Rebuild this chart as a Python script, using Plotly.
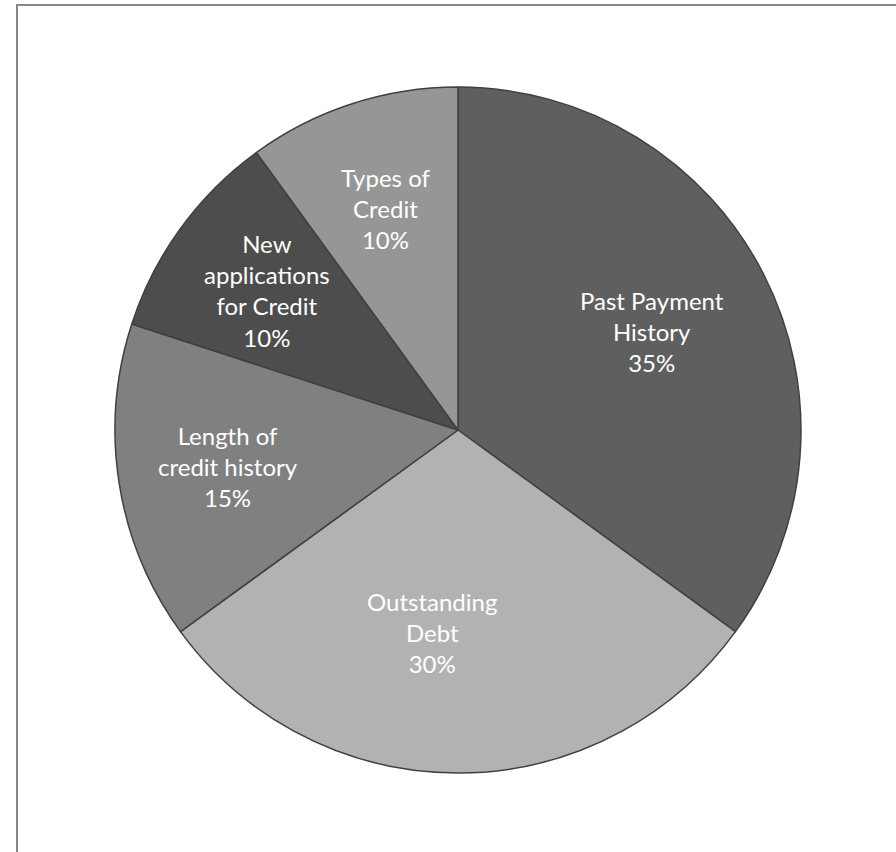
import math
import plotly.graph_objects as go

categories = ["Past Payment History", "Outstanding Debt", "Length of credit history",
              "New applications for Credit", "Types of Credit"]
label_lines = ["Past Payment<br>History", "Outstanding<br>Debt", "Length of<br>credit history",
               "New<br>applications<br>for Credit", "Types of<br>Credit"]
values = [35, 30, 15, 10, 10]
colors = ["#5f5f5f", "#b2b2b2", "#808080", "#4d4d4d", "#969696"]

W, H = 896, 852
cx, cy, R = 458, 430, 343
# label placement (style): radius fraction along slice bisector and small x nudge in px
label_frac = [0.635, 0.59, 0.68, 0.69, 0.68]
label_dx = [0, -26, 0, 0, 0]

fig = go.Figure(go.Pie(
    labels=categories,
    values=values,
    sort=False,
    direction="clockwise",
    rotation=0,
    marker=dict(colors=colors, line=dict(color="#404040", width=1.5)),
    textinfo="none",
    hoverinfo="skip",
    showlegend=False,
    domain=dict(x=[(cx - R) / W, (cx + R) / W], y=[1 - (cy + R) / H, 1 - (cy - R) / H]),
))

total = sum(values)
annotations = []
acc = 0
for lab, v, fr, ddx in zip(label_lines, values, label_frac, label_dx):
    mid = (acc + v / 2) / total * 2 * math.pi
    acc += v
    px = cx + fr * R * math.sin(mid) + ddx
    py = cy - fr * R * math.cos(mid)
    annotations.append(dict(
        x=px / W, y=1 - py / H, xref="paper", yref="paper",
        text=f"{lab}<br>{round(v / total * 100)}%", showarrow=False,
        xanchor="center", yanchor="middle", align="center",
        font=dict(family="Lato", size=24, color="white"),
    ))

fig.update_layout(
    width=W, height=H,
    margin=dict(l=0, r=0, t=0, b=0),
    paper_bgcolor="white",
    annotations=annotations,
    shapes=[dict(type="rect", xref="paper", yref="paper",
                 x0=17 / W, x1=1.05, y0=-0.05, y1=1 - 5 / H,
                 line=dict(color="#878787", width=2), fillcolor="rgba(0,0,0,0)")],
)

fig.write_html("out.html", config={"displayModeBar": False},
               post_script="document.body.style.margin='0';")
